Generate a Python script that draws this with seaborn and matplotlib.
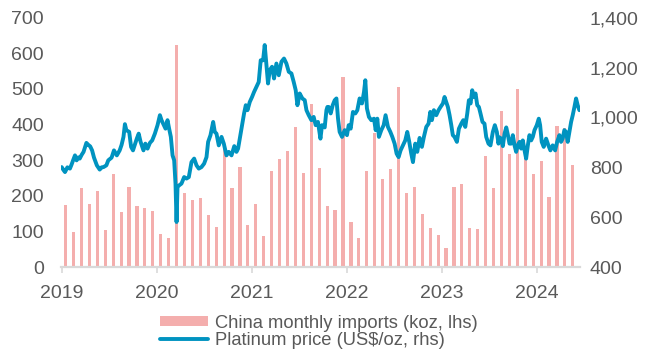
import numpy as np
import pandas as pd
import matplotlib
matplotlib.use("Agg")
import matplotlib.pyplot as plt
from matplotlib.patches import Patch
from matplotlib.lines import Line2D
from matplotlib.ticker import FuncFormatter
import seaborn as sns

# ---------------- data ----------------
# China monthly platinum imports (koz), Jan 2019 .. May 2024
imports_2019 = [175, 100, 223, 178, 215, 103, 260, 154, 226, 171, 165, 157]
imports_2020 = [94, 83, 622, 208, 187, 195, 147, 114, 334, 223, 281, 119]
imports_2021 = [178, 88, 270, 302, 327, 392, 263, 459, 279, 171, 161, 534]
imports_2022 = [128, 81, 270, 375, 246, 276, 504, 209, 225, 148, 110, 90]
imports_2023 = [53, 226, 234, 111, 108, 312, 222, 439, 317, 499, 318, 262]
imports_2024 = [297, 196, 395, 390, 287]
imports = imports_2019 + imports_2020 + imports_2021 + imports_2022 + imports_2023 + imports_2024

# Platinum price (US$/oz): time in years after 1 Jan 2019, value
price_t = [
    0.000, 0.018, 0.035, 0.060, 0.087, 0.105, 0.120, 0.140, 0.157, 0.175,
    0.190, 0.210, 0.230, 0.260, 0.280, 0.300, 0.320, 0.340, 0.370, 0.400,
    0.420, 0.440, 0.470, 0.490, 0.525, 0.550, 0.580, 0.610, 0.630, 0.650,
    0.665, 0.680, 0.710, 0.730, 0.750, 0.790, 0.810, 0.830, 0.860, 0.880,
    0.903, 0.928, 0.952, 0.980, 1.008, 1.033, 1.050, 1.067, 1.092, 1.113,
    1.130, 1.148, 1.166, 1.183, 1.197, 1.208, 1.218, 1.236, 1.260, 1.288,
    1.313, 1.337, 1.365, 1.393, 1.418, 1.442, 1.470, 1.498, 1.523, 1.540,
    1.565, 1.593, 1.610, 1.628, 1.652, 1.681, 1.705, 1.733, 1.757, 1.786,
    1.815, 1.838, 1.855, 1.873, 1.897, 1.918, 1.936, 1.954, 1.978, 2.002,
    2.023, 2.048, 2.072, 2.093, 2.118, 2.135, 2.153, 2.170, 2.188, 2.212,
    2.233, 2.258, 2.283, 2.311, 2.338, 2.363, 2.388, 2.416, 2.440, 2.461,
    2.479, 2.503, 2.531, 2.556, 2.574, 2.598, 2.626, 2.650, 2.671, 2.695,
    2.721, 2.738, 2.766, 2.784, 2.794, 2.808, 2.829, 2.850, 2.871, 2.889,
    2.906, 2.923, 2.948, 2.976, 3.000, 3.018, 3.039, 3.063, 3.088, 3.109,
    3.133, 3.158, 3.179, 3.193, 3.210, 3.231, 3.256, 3.284, 3.302, 3.319,
    3.336, 3.361, 3.386, 3.406, 3.431, 3.456, 3.477, 3.501, 3.522, 3.543,
    3.564, 3.588, 3.613, 3.634, 3.655, 3.676, 3.694, 3.718, 3.739, 3.764,
    3.788, 3.809, 3.834, 3.858, 3.876, 3.893, 3.914, 3.939, 3.963, 3.984,
    4.009, 4.026, 4.044, 4.061, 4.079, 4.097, 4.113, 4.131, 4.156, 4.177,
    4.202, 4.223, 4.244, 4.265, 4.282, 4.300, 4.317, 4.334, 4.352, 4.370,
    4.387, 4.404, 4.425, 4.446, 4.464, 4.488, 4.509, 4.534, 4.555, 4.576,
    4.593, 4.604, 4.622, 4.639, 4.657, 4.675, 4.692, 4.709, 4.727, 4.744,
    4.762, 4.779, 4.796, 4.814, 4.832, 4.849, 4.867, 4.884, 4.902, 4.919,
    4.937, 4.954, 4.972, 4.996, 5.017, 5.031, 5.048, 5.069, 5.094, 5.118,
    5.139, 5.163, 5.189, 5.210, 5.234, 5.251, 5.268, 5.286, 5.304, 5.321,
    5.339, 5.357, 5.374, 5.392, 5.409, 5.426, 5.444,
]
price = [
    801, 790, 781, 800, 795, 812, 828, 848, 828, 840,
    835, 850, 862, 898, 890, 884, 868, 839, 808, 791,
    800, 801, 808, 828, 839, 868, 848, 868, 890, 922,
    973, 949, 942, 882, 868, 915, 935, 902, 868, 895,
    875, 898, 908, 935, 969, 1009, 989, 975, 955, 989,
    955, 922, 848, 828, 735, 581, 721, 728, 735, 761,
    755, 761, 821, 835, 808, 795, 801, 815, 841, 902,
    929, 982, 942, 935, 888, 922, 895, 848, 862, 848,
    885, 862, 875, 915, 969, 1016, 1049, 1029, 1062, 1082,
    1102, 1122, 1142, 1229, 1229, 1290, 1209, 1136, 1189, 1203,
    1156, 1216, 1169, 1223, 1236, 1216, 1183, 1176, 1142, 1109,
    1049, 1096, 1076, 1069, 1029, 1009, 989, 1002, 969, 982,
    915, 969, 960, 1029, 1042, 1042, 1016, 1049, 1069, 1076,
    995, 942, 922, 949, 929, 969, 955, 1022, 1016, 1029,
    1076, 1056, 1102, 1149, 1036, 1002, 989, 995, 949, 995,
    922, 949, 969, 1009, 962, 942, 922, 895, 855, 841,
    868, 888, 908, 942, 902, 855, 821, 895, 862, 918,
    882, 922, 962, 975, 1022, 989, 1029, 1009, 1029, 1042,
    1056, 1082, 1062, 1042, 1009, 969, 929, 922, 902, 955,
    975, 989, 962, 1016, 1069, 1056, 1109, 1082, 1096, 1049,
    1042, 1016, 982, 975, 922, 895, 888, 942, 969, 942,
    895, 920, 915, 885, 935, 960, 930, 895, 895, 929,
    888, 862, 888, 902, 875, 908, 868, 835, 888, 929,
    908, 922, 949, 969, 995, 969, 902, 882, 915, 888,
    868, 888, 868, 902, 929, 902, 915, 949, 942, 902,
    942, 982, 1009, 1042, 1076, 1049, 1029,
]

year_ticks = [2019, 2020, 2021, 2022, 2023, 2024]
left_ticks = [0, 100, 200, 300, 400, 500, 600, 700]
right_ticks = [400, 600, 800, 1000, 1200, 1400]
bar_label = "China monthly imports (koz, lhs)"
line_label = "Platinum price (US$/oz, rhs)"

# ---------------- style ----------------
sns.set_theme(style="white")
plt.rcParams['font.family'] = ['Liberation Sans', 'DejaVu Sans']

BAR_C = "#F4AEAD"
LINE_C = "#0093C0"
TEXT_C = "#595959"
AXIS_C = "#D9D9D9"

fig = plt.figure(figsize=(6.48, 3.52), dpi=100)
ax = fig.add_axes([0.0937, 0.2410, 0.8013, 0.7090])

bar_df = pd.DataFrame({
    "t": 2019 + (np.arange(len(imports)) + 0.5) / 12.0,
    "v": imports,
})
sns.barplot(data=bar_df, x="t", y="v", native_scale=True, width=0.4,
            color=BAR_C, saturation=1, linewidth=0, ax=ax, errorbar=None)

ax2 = ax.twinx()
line_df = pd.DataFrame({"t": 2019 + np.array(price_t), "p": price})
sns.lineplot(data=line_df, x="t", y="p", color=LINE_C, linewidth=2.8,
             ax=ax2, sort=True)

ax.set_xlim(2018.99, 2024.45)
ax.set_ylim(0, 700)
ax2.set_ylim(400, 1400)
ax.set_xticks(year_ticks)
ax.set_xticklabels([str(y) for y in year_ticks])
ax.set_yticks(left_ticks)
ax2.set_yticks(right_ticks)
ax2.yaxis.set_major_formatter(FuncFormatter(lambda v, p: f"{int(v):,}"))

for a in (ax, ax2):
    a.set_xlabel("")
    a.set_ylabel("")
    for s in a.spines.values():
        s.set_visible(False)
ax.spines["bottom"].set_visible(True)
ax.spines["bottom"].set_color(AXIS_C)
ax.spines["bottom"].set_linewidth(1.6)

ax.tick_params(axis="x", direction="out", length=4, width=1.2, color=AXIS_C,
               labelcolor=TEXT_C, labelsize=14, pad=9, bottom=True)
ax.tick_params(axis="y", length=0, labelcolor=TEXT_C, labelsize=14, pad=12)
ax2.tick_params(axis="y", length=0, labelcolor=TEXT_C, labelsize=14, pad=7)
ax.grid(False)
ax2.grid(False)

handles = [Patch(facecolor=BAR_C, edgecolor="none"),
           Line2D([0], [0], color=LINE_C, linewidth=2.8)]
leg = fig.legend(handles, [bar_label, line_label], loc="upper left",
                 bbox_to_anchor=(0.247, 0.106), frameon=False, fontsize=13.2,
                 handlelength=2.6, handleheight=0.5, handletextpad=0.37,
                 labelspacing=0.02, borderpad=0, borderaxespad=0)
for t in leg.get_texts():
    t.set_color(TEXT_C)

fig.savefig("out.png", dpi=100)
